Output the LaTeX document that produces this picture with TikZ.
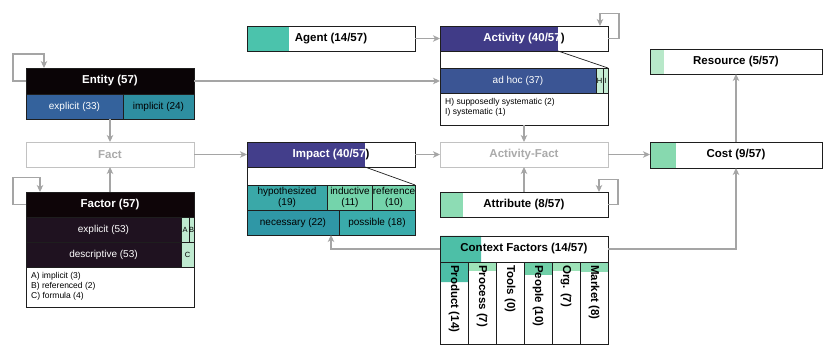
\documentclass[tikz,border=0pt]{standalone}
\usepackage{fontspec}
\setmainfont{Liberation Sans}
\usetikzlibrary{arrows.meta}
\definecolor{edgecol}{HTML}{1E1E1E}
\definecolor{conncol}{HTML}{A5A5A5}
\definecolor{ghostcol}{HTML}{C2C2C2}
\definecolor{ghosttext}{HTML}{AAAAAA}
\definecolor{entHead}{HTML}{0A0406}
\definecolor{entExpC}{HTML}{34629C}
\definecolor{entImpC}{HTML}{2E8FA1}
\definecolor{facHead}{HTML}{0E0508}
\definecolor{facRow}{HTML}{1F1220}
\definecolor{abcC}{HTML}{BFEAD0}
\definecolor{agentTeal}{HTML}{4BC3AC}
\definecolor{actBlue}{HTML}{403B87}
\definecolor{adhocC}{HTML}{3B5594}
\definecolor{hiC}{HTML}{C6EDD4}
\definecolor{impBlue}{HTML}{433E8B}
\definecolor{hypC}{HTML}{3AA8A8}
\definecolor{indC}{HTML}{74D4AB}
\definecolor{necC}{HTML}{2F97A6}
\definecolor{posC}{HTML}{3AABAB}
\definecolor{attrGreen}{HTML}{8DDCB4}
\definecolor{ctxTeal}{HTML}{4DBFA7}
\definecolor{procStrip}{HTML}{9EE2B8}
\definecolor{peopStrip}{HTML}{6FCFA7}
\definecolor{mktStrip}{HTML}{8DDCB4}
\definecolor{costGreen}{HTML}{87D9AF}
\definecolor{resGreen}{HTML}{B8E8C9}
\tikzset{
  cellbox/.style={draw=edgecol, line width=0.8pt, inner sep=0pt, outer sep=0pt, rectangle},
  boxtitle/.style={font=\fontsize{11.5}{13.5}\selectfont\bfseries},
  boxsub/.style={font=\fontsize{10}{11.5}\selectfont},
  boxmini/.style={font=\fontsize{7.5}{8}\selectfont},
  boxnote/.style={font=\fontsize{8.5}{10.3}\selectfont, align=left, anchor=north west, inner sep=0pt},
  ghostbox/.style={draw=ghostcol, text=ghosttext},
  connarrow/.style={draw=conncol, line width=1.1pt, -{Stealth[length=7pt,width=6.5pt,inset=2pt]}},
  zoomline/.style={draw=edgecol, line width=0.7pt},
  coltext/.style={boxtitle, rotate=-90, anchor=west, inner sep=0pt}
}
\newcommand\mkcell[7][]{\node[cellbox,minimum width={(#5-#3)*1pt},minimum height={(#6-#4)*1pt},#1] (#2) at ({(#3+#5)/2},{(#4+#6)/2}) {#7};}
\begin{document}
\begin{tikzpicture}[x=1pt,y=-1pt]
\useasboundingbox (0,0) rectangle (830,358);
% Entity
\mkcell[fill=entHead,text=white,boxtitle]{entity}{26}{68}{194}{94}{Entity (57)}
\mkcell[fill=entExpC,text=white,boxsub]{entExp}{26}{94}{123}{119}{explicit (33)}
\mkcell[fill=entImpC,boxsub]{entImp}{123}{94}{194}{119}{implicit (24)}
% Fact
\mkcell[ghostbox,boxtitle]{fact}{26}{142}{194}{167}{Fact}
% Factor
\mkcell[fill=facHead,text=white,boxtitle]{factor}{26}{192}{194}{217}{Factor (57)}
\mkcell[fill=facRow,text=white,boxsub]{facExp}{26}{217}{181}{242}{explicit (53)}
\mkcell[fill=abcC,boxmini]{facA}{181}{217}{189}{242}{A}
\mkcell[fill=abcC,boxmini]{facB}{189}{217}{194}{242}{B}
\mkcell[fill=facRow,text=white,boxsub]{facDes}{26}{242}{181}{267}{descriptive (53)}
\mkcell[fill=abcC,boxmini]{facC}{181}{242}{194}{267}{C}
\mkcell{facNote}{26}{267}{194}{307}{}
\node[boxnote] (facNoteText) at (31,272) {A) implicit (3)\\B) referenced (2)\\C) formula (4)};
% Agent
\fill[agentTeal] (247,26) rectangle (289,51);
\mkcell[boxtitle]{agent}{247}{26}{415}{51}{Agent (14/57)}
% Activity
\fill[actBlue] (440,26) rectangle (558,51);
\mkcell[boxtitle,text=white]{activity}{440}{26}{608}{51}{Activity (40/57{\color{black})}}
\coordinate (actBlueEnd) at (558,51);
\mkcell[fill=adhocC,text=white,boxsub]{adhoc}{440}{68}{596}{93}{ad hoc (37)}
\mkcell[fill=hiC,boxmini]{actH}{596}{68}{603}{93}{H}
\mkcell[fill=hiC,boxmini]{actI}{603}{68}{608}{93}{I}
\mkcell{actNote}{440}{93}{608}{125}{}
\node[boxnote] (actNoteText) at (445,98) {H) supposedly systematic (2)\\I) systematic (1)};
\draw[zoomline] (activity.south west) -- (adhoc.north west);
\draw[zoomline] (actBlueEnd) -- (actI.north east);
% Impact
\fill[impBlue] (247,142) rectangle (365,167);
\mkcell[boxtitle,text=white]{impact}{247}{142}{415}{167}{Impact (40/57{\color{black})}}
\coordinate (impBlueEnd) at (365,167);
\mkcell[fill=hypC,boxsub,align=center]{impHyp}{247}{185}{327}{210}{hypothesized\\(19)}
\mkcell[fill=indC,boxsub,align=center]{impInd}{327}{185}{373}{210}{inductive\\(11)}
\mkcell[fill=indC,boxsub,align=center]{impRef}{373}{185}{415}{210}{reference\\(10)}
\mkcell[fill=necC,boxsub]{impNec}{247}{210}{339}{235}{necessary (22)}
\mkcell[fill=posC,boxsub]{impPos}{339}{210}{415}{235}{possible (18)}
\draw[zoomline] (impact.south west) -- (impHyp.north west);
\draw[zoomline] (impBlueEnd) -- (impRef.north east);
% Activity-Fact
\mkcell[ghostbox,boxtitle]{actfact}{440}{142}{608}{167}{Activity-Fact}
% Attribute
\fill[attrGreen] (440,192) rectangle (463,217);
\mkcell[boxtitle]{attribute}{440}{192}{608}{217}{Attribute (8/57)}
% Context factors
\fill[ctxTeal] (440,236) -- (481,236) -- (481,262) -- (468,262) -- (468,282) -- (440,282) -- cycle;
\fill[procStrip] (468,262) rectangle (496,271);
\fill[peopStrip] (524,262) rectangle (552,275);
\fill[procStrip] (552,262) rectangle (580,271);
\fill[mktStrip] (580,262) rectangle (608,272);
\mkcell[boxtitle]{ctx}{440}{236}{608}{262}{Context Factors (14/57)}
\mkcell{colProd}{440}{262}{468}{344}{}
\mkcell{colProc}{468}{262}{496}{344}{}
\mkcell{colTools}{496}{262}{524}{344}{}
\mkcell{colPeop}{524}{262}{552}{344}{}
\mkcell{colOrg}{552}{262}{580}{344}{}
\mkcell{colMkt}{580}{262}{608}{344}{}
\node[coltext] (tProd) at ([yshift=-3pt]colProd.north) {Product (14)};
\node[coltext] (tProc) at ([yshift=-3pt]colProc.north) {Process (7)};
\node[coltext] (tTools) at ([yshift=-3pt]colTools.north) {Tools (0)};
\node[coltext] (tPeop) at ([yshift=-3pt]colPeop.north) {People (10)};
\node[coltext] (tOrg) at ([yshift=-3pt]colOrg.north) {Org. (7)};
\node[coltext] (tMkt) at ([yshift=-3pt]colMkt.north) {Market (8)};
% Cost and Resource
\fill[costGreen] (650,142) rectangle (676,168);
\mkcell[boxtitle]{cost}{650}{142}{822}{168}{Cost (9/57)}
\fill[resGreen] (650,49) rectangle (664,74);
\mkcell[boxtitle]{resource}{650}{49}{822}{74}{Resource (5/57)}
% Connectors
\draw[connarrow] (entity.west) -- ++(-13,0) -- ++(0,-27) -| ([xshift=-66pt]entity.north);
\draw[connarrow] (entity.east) -- (entity.east -| adhoc.west);
\draw[connarrow] (fact.north |- entExp.south) -- (fact.north);
\draw[connarrow] (fact.east) -- (fact.east -| impact.west);
\draw[connarrow] (factor.north) -- (fact.south);
\draw[connarrow] (factor.west) -- ++(-13,0) -- ++(0,-27) -| ([xshift=-70pt]factor.north);
\draw[connarrow] (agent.east) -- (activity.west);
\draw[connarrow] (activity.east) -- ++(11,0) -- ++(0,-25) -| ([xshift=76pt]activity.north);
\draw[connarrow] (actNote.south) -- (actfact.north);
\draw[connarrow] (impact.east) -- (actfact.west);
\draw[connarrow] (attribute.north) -- (actfact.south);
\draw[connarrow] (attribute.east) -- ++(10,0) -- ++(0,-25) -| ([xshift=75pt]attribute.north);
\draw[connarrow] (actfact.east) -- (actfact.east -| cost.west);
\draw[connarrow] (ctx.west) -| (impact.center |- impNec.south);
\draw[connarrow] (ctx.east) -| (cost.south);
\draw[connarrow] (cost.north) -- (resource.south);
\end{tikzpicture}
\end{document}
